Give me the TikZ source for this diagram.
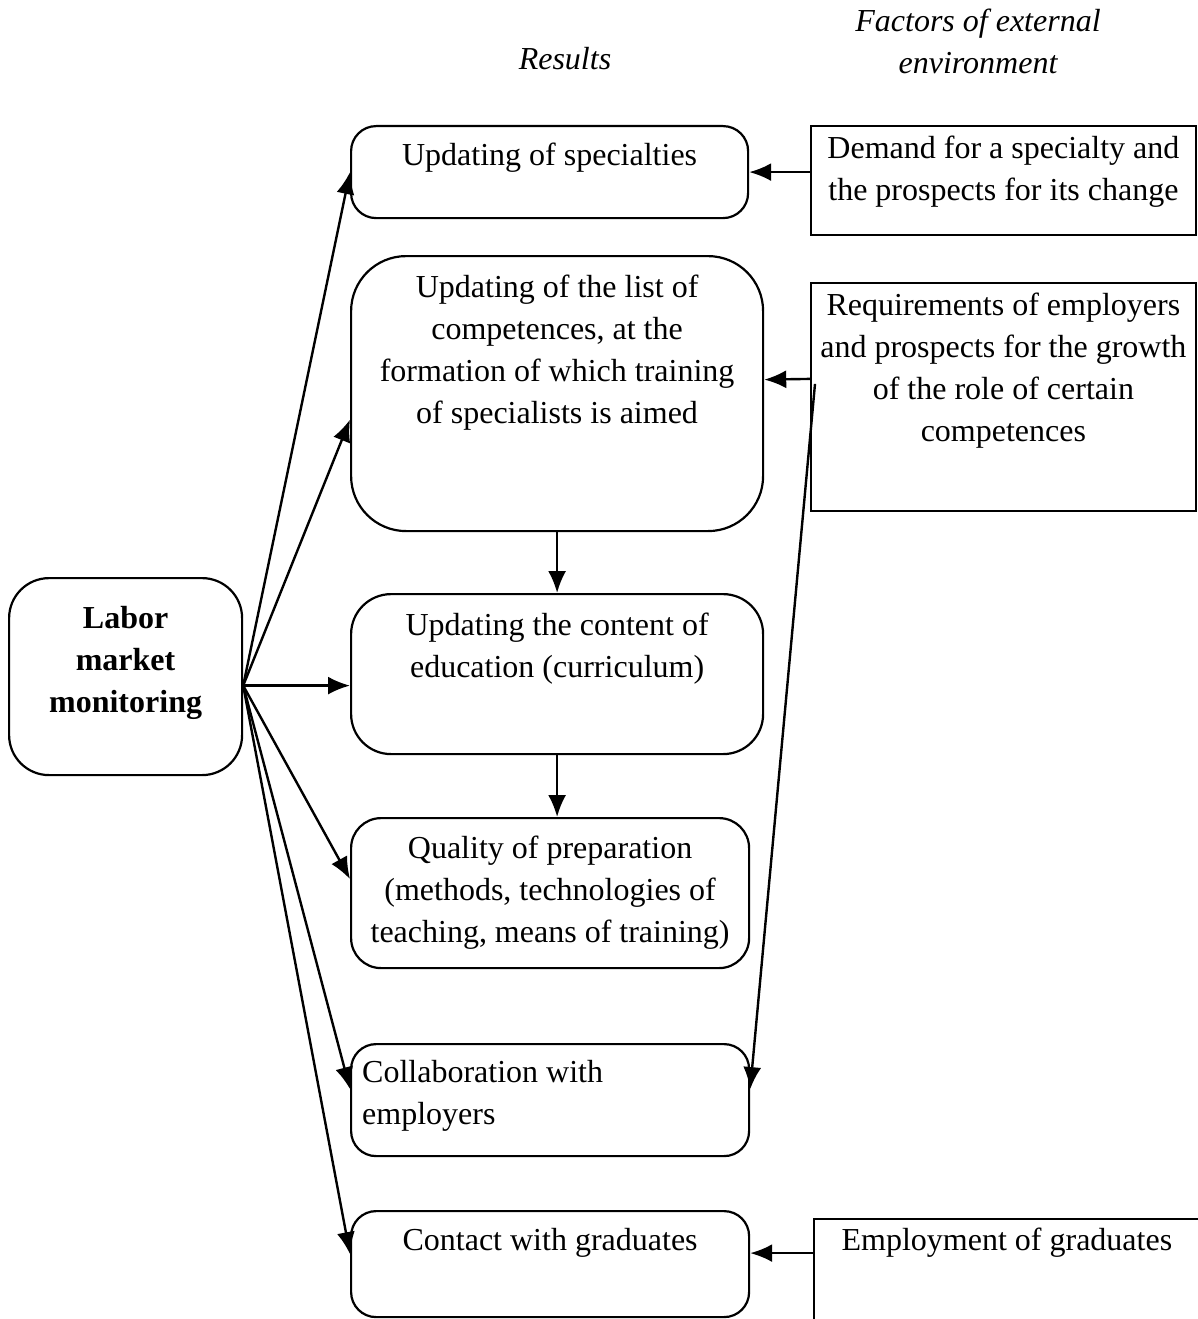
\documentclass[tikz,border=0pt]{standalone}
\usepackage{fontspec}
\setmainfont{Liberation Serif}
\usetikzlibrary{arrows.meta,positioning,calc}

\tikzset{
  res/.style={draw, line width=2.2pt, rounded corners=#1, anchor=north west, inner sep=0pt},
  res/.default=25pt,
  fac/.style={draw, line width=1.8pt, anchor=north west, inner sep=0pt},
  txt/.style={anchor=north, align=center, inner sep=0pt, font=\fontsize{32}{42}\selectfont},
  link/.style={-{Latex[length=22pt,width=18pt]}, line width=2.4pt},
}

\begin{document}
\begin{tikzpicture}[x = 1pt, y = -1pt]
  \clip (0,0) rectangle (1198,1319);
    % Boxes
    \node[res = 40pt, minimum width = 233pt, minimum height = 197pt] (lm) at (8,577) {};
    \node[res, minimum width = 397pt, minimum height = 92pt] (upd) at (350,125) {};
    \node[res = 55pt, minimum width = 412pt, minimum height = 275pt] (comp) at (350,255) {};
    \node[res = 40pt, minimum width = 412pt, minimum height = 160pt] (cont) at (350,593) {};
    \node[res = 30pt, minimum width = 398pt, minimum height = 150pt] (qual) at (350,817) {};
    \node[res, minimum width = 398pt, minimum height = 112pt] (coll) at (350,1043) {};
    \node[res, minimum width = 398pt, minimum height = 106pt] (grad) at (350,1210) {};
    \node[fac, minimum width = 385pt, minimum height = 109pt] (dem) at (810,125) {};
    \node[fac, minimum width = 385pt, minimum height = 228pt] (req) at (810,282) {};
    \node[fac, minimum width = 388pt, minimum height = 130pt] (empl) at (813,1218) {};
    % Headers
    \node[txt, font = \fontsize{32}{42}\selectfont\itshape] (hres) at (565,47) {Results};
    \node[txt, font = \fontsize{32}{42}\selectfont\itshape] (hfac) at (978,9) {Factors of external\\environment};
    % Labels
    \node[txt, font = \fontsize{32}{42}\selectfont\bfseries] at ($(lm.north)+(0,29)$) {Labor\\market\\monitoring};
    \node[txt] at ($(upd.north)+(0,18)$) {Updating of specialties};
    \node[txt] at ($(comp.north)+(0,20)$) {Updating of the list of\\competences, at the\\formation of which training\\of specialists is aimed};
    \node[txt] at ($(cont.north)+(0,20)$) {Updating the content of\\education (curriculum)};
    \node[txt] at ($(qual.north)+(0,19)$) {Quality of preparation\\(methods, technologies of\\teaching, means of training)};
    \node[txt, anchor = north west, align = left] at ($(coll.north west)+(12,17)$) {Collaboration with\\employers};
    \node[txt] at ($(grad.north)+(0,18)$) {Contact with graduates};
    \node[txt] at ($(dem.north)+(0,11)$) {Demand for a specialty and\\the prospects for its change};
    \node[txt] at ($(req.north)+(0,11)$) {Requirements of employers\\and prospects for the growth\\of the role of certain\\competences};
    \node[txt] at ($(empl.north)+(-1,10)$) {Employment of graduates};
    % Arrows
    \coordinate (hub) at ($(lm.east)+(0,9)$);
    \draw[link] (hub) -- (upd.west);
    \draw[link] (hub) -- ($(comp.west)+(0,26)$);
    \draw[link] (hub) -- (hub -| cont.west);
    \draw[link] (hub) -- ($(qual.west)+(0,-14)$);
    \draw[link] (hub) -- ($(coll.west)+(0,-11)$);
    \draw[link] (hub) -- ($(grad.west)+(0,-10)$);
    \draw[link] (comp.south) -- (cont.north);
    \draw[link] (cont.south) -- (cont.south |- qual.north);
    \draw[link] (dem.west |- upd.east) -- (upd.east);
    \draw[link] ($(req.west)+(0,-18)$) -- ($(comp.east)+(0,-14)$);
    \draw[link] ($(req.west)+(5,-13)$) -- ($(coll.east)+(0,-11)$);
    \coordinate (gradin) at ($(grad.east)+(0,-11)$);
    \draw[link] (empl.west |- gradin) -- (gradin);
  \end{tikzpicture}
\end{document}
